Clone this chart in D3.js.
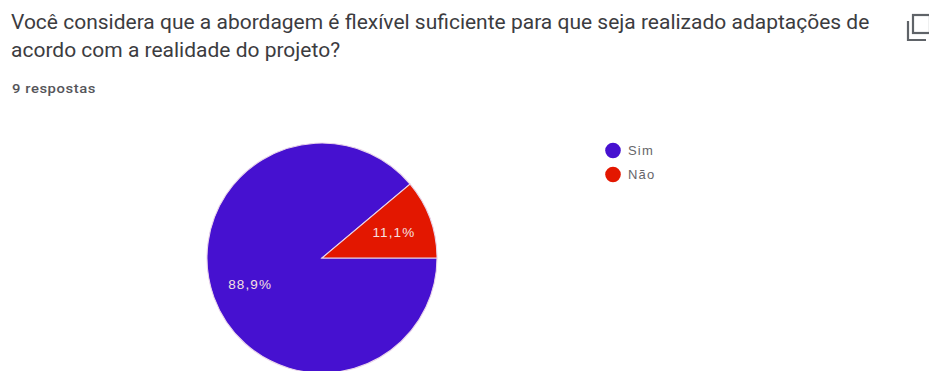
<!DOCTYPE html>
<html lang="pt">
<head>
<meta charset="utf-8">
<script src="https://cdn.jsdelivr.net/npm/d3@7"></script>
<style>
  html, body { margin: 0; padding: 0; background: #fff; overflow: hidden; }
  svg { display: block; }
</style>
</head>
<body>
<svg id="chart" width="929" height="371"></svg>
<script>
const titleLines = [
  "Você considera que a abordagem é flexível suficiente para que seja realizado adaptações de",
  "acordo com a realidade do projeto?"
];
const responseNote = "9 respostas";
const categories = ["Sim", "Não"];
const responses = [8, 1];
const sliceLabels = ["88,9%", "11,1%"];
const sliceColors = ["#4611d0", "#e31700"];

const svg = d3.select("#chart");

// Question heading, set slightly wide
svg.append("g").selectAll("text").data(titleLines).join("text")
  .attr("transform", (d, i) => `translate(11,${29 + i * 28}) scale(1.05,1)`)
  .attr("font-family", "Roboto, sans-serif")
  .attr("font-size", 20)
  .attr("fill", "#3c3c3f")
  .text(d => d);

svg.append("text")
  .attr("transform", "translate(12,93) scale(1.1,1)")
  .attr("font-family", "Roboto, sans-serif")
  .attr("font-size", 13.5)
  .attr("font-weight", 500)
  .attr("letter-spacing", 0.5)
  .attr("fill", "#55555a")
  .text(responseNote);

// Copy icon, top right
const icon = svg.append("g").attr("fill", "none").attr("stroke", "#5f6368").attr("stroke-width", 2.2);
icon.append("rect").attr("x", 913).attr("y", 15).attr("width", 17).attr("height", 18);
icon.append("path").attr("d", "M908 21V40H926");

// Pie, starting at three o'clock and running clockwise
const cx = 322, cy = 258, radius = 115;
const pie = d3.pie().sort(null)
  .startAngle(Math.PI / 2)
  .endAngle(Math.PI / 2 + 2 * Math.PI);
const arcs = pie(responses);
const arc = d3.arc().innerRadius(0).outerRadius(radius);
const labelArc = d3.arc().innerRadius(radius * 0.665).outerRadius(radius * 0.665);

const plot = svg.append("g").attr("transform", `translate(${cx},${cy})`);
plot.selectAll("path").data(arcs).join("path")
  .attr("d", arc)
  .attr("fill", (d, i) => sliceColors[i])
  .attr("stroke", "#e9d4ea")
  .attr("stroke-width", 1.1);

plot.selectAll("text").data(arcs).join("text")
  .attr("transform", d => {
    const [x, y] = labelArc.centroid(d);
    return `translate(${x},${y})`;
  })
  .attr("text-anchor", "middle")
  .attr("dy", "0.35em")
  .attr("font-family", "'Liberation Sans', Arial, sans-serif")
  .attr("font-size", 13.5)
  .attr("letter-spacing", 1.1)
  .attr("fill", "#f5e0e0")
  .text((d, i) => sliceLabels[i]);

// Legend
const legendY = d3.scalePoint().domain(categories).range([150.5, 174.5]);
const legend = svg.append("g").selectAll("g").data(categories).join("g")
  .attr("transform", d => `translate(613,${legendY(d)})`);
legend.append("circle").attr("r", 7.8).attr("fill", (d, i) => sliceColors[i]);
legend.append("text")
  .attr("x", 15).attr("dy", "0.35em")
  .attr("font-family", "'Liberation Sans', Arial, sans-serif")
  .attr("font-size", 13)
  .attr("letter-spacing", 1.2)
  .attr("fill", "#66666a")
  .text(d => d);
</script>
</body>
</html>
